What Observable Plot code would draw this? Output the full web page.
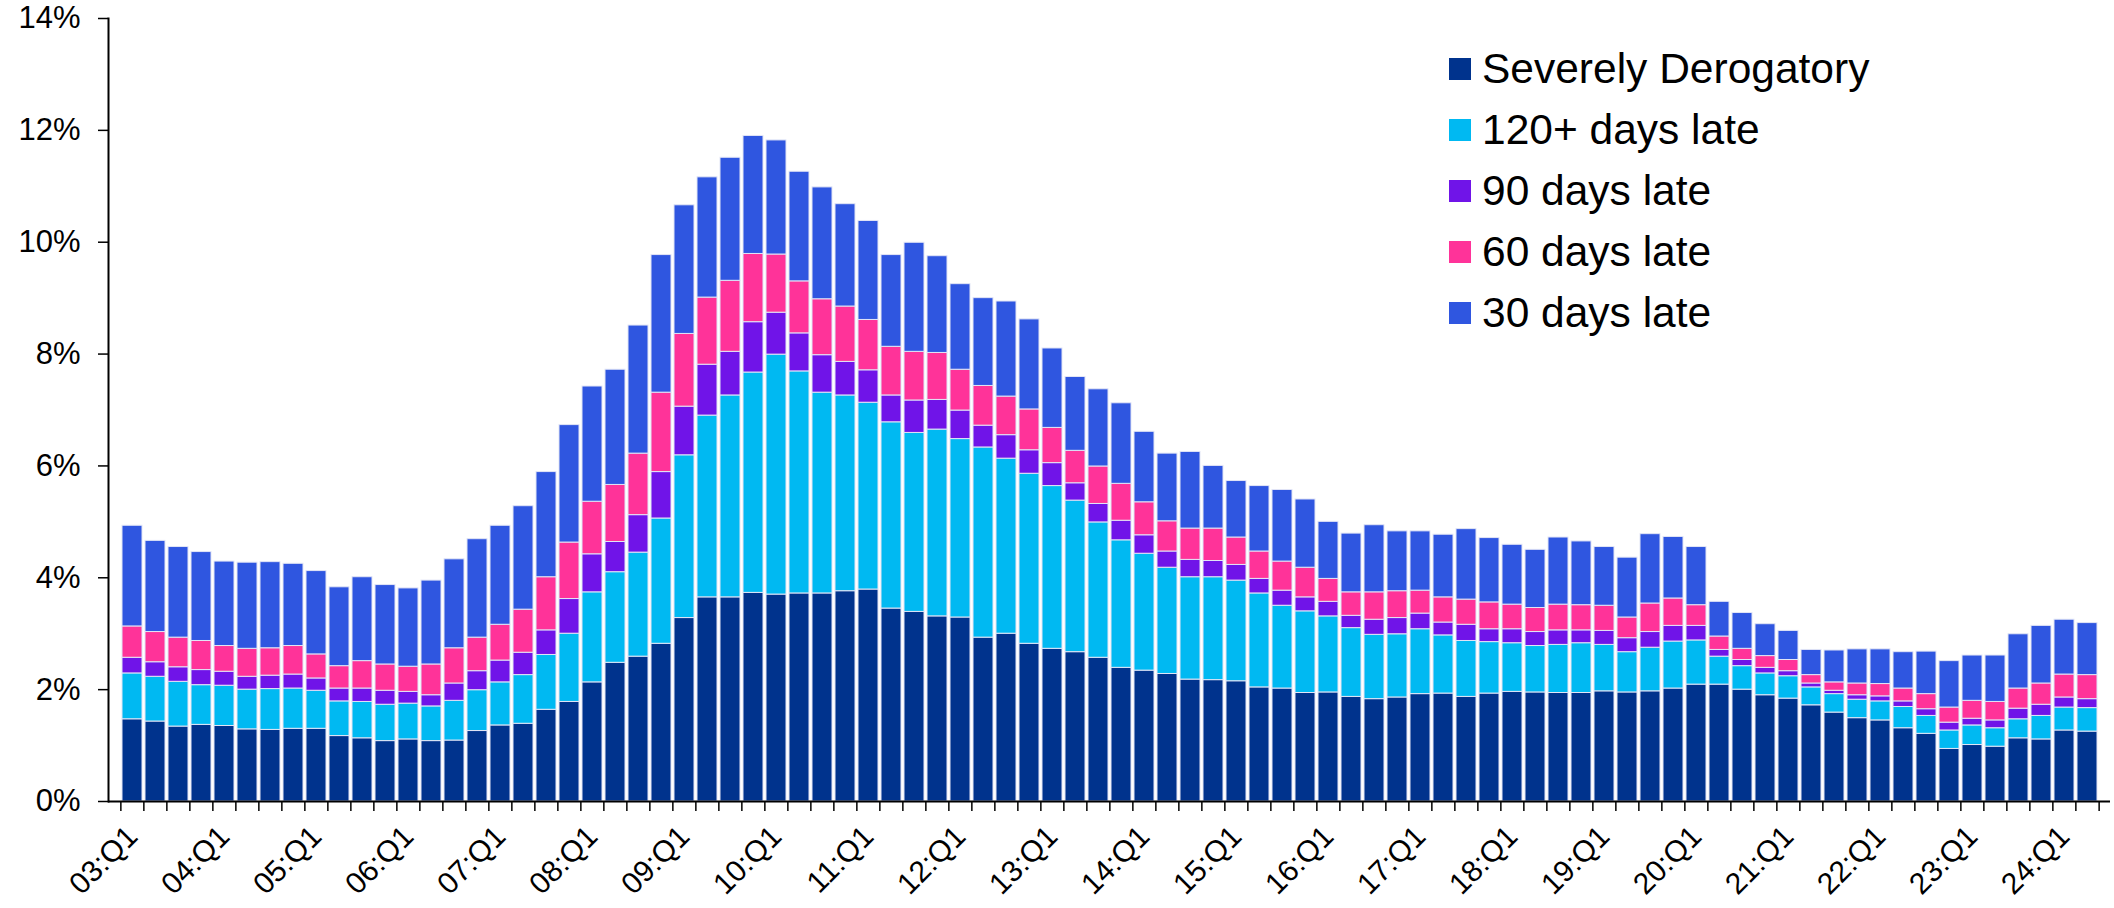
<!DOCTYPE html>
<html><head><meta charset="utf-8">
<script src="https://cdn.jsdelivr.net/npm/d3@7"></script>
<script src="https://cdn.jsdelivr.net/npm/@observablehq/plot@0.6"></script>
<style>
body{margin:0;background:#fff;}
#wrap{position:relative;width:2114px;height:908px;font-family:"Liberation Sans",Arial,sans-serif;}
#legend{position:absolute;left:1449px;top:38px;}
.row{display:flex;align-items:center;height:61px;font-size:42.5px;color:#000;white-space:nowrap;}
.sw{width:22px;height:22px;margin-right:11px;flex:none;}
</style></head><body><div id="wrap"><div id="legend"></div></div>
<script>
// Categories: quarters 03:Q1 .. 24:Q2
const quarters = [];
for (let y = 3; y <= 24; y++) for (let q = 1; q <= 4; q++) {
  if (y === 24 && q > 2) break;
  quarters.push(String(y).padStart(2, "0") + ":Q" + q);
}
const seriesNames = ["Severely Derogatory", "120+ days late", "90 days late", "60 days late", "30 days late"];
const colors = ["#00338D", "#00B9F2", "#7014E8", "#FF3399", "#2F56E0"];
const yTicks = [0, 2, 4, 6, 8, 10, 12, 14];

// Segment values (% of balance)
const severe = [1.47,1.43,1.34,1.37,1.35,1.29,1.28,1.30,1.30,1.17,1.13,1.08,1.11,1.08,1.09,1.26,1.36,1.39,1.64,1.78,
  2.13,2.48,2.59,2.82,3.28,3.65,3.65,3.73,3.70,3.72,3.72,3.76,3.79,3.45,3.39,3.31,3.29,2.93,3.00,2.82,
  2.73,2.67,2.57,2.39,2.34,2.28,2.18,2.17,2.15,2.04,2.02,1.94,1.95,1.87,1.83,1.86,1.92,1.93,1.87,1.93,
  1.96,1.95,1.94,1.94,1.97,1.95,1.97,2.02,2.09,2.09,2.00,1.90,1.84,1.72,1.59,1.49,1.45,1.31,1.21,0.94,
  1.01,0.98,1.13,1.11,1.27,1.25];
const late120 = [0.82,0.80,0.80,0.71,0.72,0.71,0.73,0.72,0.68,0.62,0.65,0.65,0.64,0.62,0.71,0.73,0.77,0.87,0.98,1.22,
  1.61,1.62,1.86,2.24,2.91,3.25,3.61,3.94,4.29,3.97,3.59,3.50,3.34,3.33,3.20,3.34,3.19,3.40,3.13,3.04,
  2.91,2.71,2.42,2.28,2.09,1.90,1.83,1.84,1.80,1.68,1.48,1.46,1.36,1.23,1.15,1.13,1.16,1.04,1.00,0.92,
  0.87,0.83,0.86,0.89,0.83,0.72,0.78,0.84,0.79,0.50,0.42,0.39,0.40,0.32,0.33,0.33,0.34,0.38,0.32,0.33,
  0.35,0.33,0.34,0.42,0.41,0.42];
const late90 = [0.28,0.26,0.26,0.27,0.25,0.23,0.24,0.25,0.22,0.23,0.24,0.25,0.21,0.20,0.31,0.34,0.39,0.40,0.44,0.62,
  0.68,0.54,0.67,0.83,0.87,0.91,0.78,0.90,0.75,0.68,0.67,0.60,0.58,0.48,0.58,0.53,0.51,0.39,0.42,0.42,
  0.41,0.31,0.33,0.35,0.33,0.29,0.31,0.29,0.28,0.26,0.27,0.25,0.26,0.22,0.27,0.29,0.28,0.23,0.29,0.23,
  0.25,0.25,0.26,0.23,0.25,0.25,0.28,0.28,0.26,0.12,0.11,0.10,0.09,0.07,0.06,0.08,0.09,0.10,0.12,0.14,
  0.12,0.14,0.19,0.20,0.18,0.16];
const late60 = [0.56,0.54,0.53,0.52,0.46,0.50,0.49,0.51,0.43,0.40,0.49,0.47,0.45,0.55,0.63,0.60,0.64,0.77,0.95,1.01,
  0.94,1.02,1.10,1.42,1.30,1.20,1.27,1.22,1.04,0.93,1.00,0.99,0.90,0.87,0.87,0.84,0.73,0.71,0.69,0.73,
  0.63,0.58,0.67,0.66,0.59,0.54,0.56,0.58,0.49,0.49,0.52,0.53,0.41,0.42,0.49,0.48,0.41,0.45,0.45,0.48,
  0.44,0.43,0.46,0.45,0.45,0.37,0.51,0.49,0.37,0.24,0.20,0.21,0.20,0.15,0.15,0.21,0.22,0.23,0.27,0.27,
  0.32,0.33,0.36,0.38,0.41,0.43];
const late30 = [1.80,1.63,1.62,1.59,1.51,1.54,1.54,1.47,1.49,1.41,1.50,1.42,1.40,1.50,1.59,1.76,1.77,1.85,1.88,2.10,
  2.06,2.06,2.29,2.46,2.30,2.15,2.20,2.11,2.04,1.96,2.00,1.83,1.77,1.64,1.95,1.73,1.53,1.57,1.70,1.61,
  1.42,1.32,1.38,1.44,1.26,1.21,1.37,1.12,1.01,1.17,1.28,1.22,1.02,1.05,1.20,1.07,1.06,1.12,1.26,1.15,
  1.07,1.04,1.20,1.14,1.05,1.07,1.24,1.10,1.04,0.62,0.64,0.57,0.52,0.45,0.57,0.61,0.62,0.65,0.76,0.83,
  0.81,0.83,0.97,1.03,0.98,0.93];

const seriesValues = [severe, late120, late90, late60, late30];
const data = [];
quarters.forEach((q, i) => {
  seriesNames.forEach((s, k) => data.push({quarter: q, series: s, value: seriesValues[k][i]}));
});
const q1Ticks = quarters.filter(q => q.endsWith("Q1"));

const W = 2114, H = 908, mL = 108, mR = 4, mT = 18, mB = 107;
const step = (W - mL - mR) / quarters.length;
const font = "Liberation Sans, Arial, sans-serif";

const chart = Plot.plot({
  width: W, height: H,
  marginLeft: mL, marginRight: mR, marginTop: mT, marginBottom: mB,
  style: {fontFamily: font, color: "#000", background: "#fff", overflow: "visible"},
  x: {type: "band", domain: quarters, paddingInner: 0.14, paddingOuter: 0.07},
  y: {domain: [0, 14]},
  color: {domain: seriesNames, range: colors},
  marks: [
    Plot.barY(data, {x: "quarter", y: "value", fill: "series", stroke: "#e2e5f6", strokeWidth: 1}),
    Plot.ruleY([0], {stroke: "#000", strokeWidth: 2}),
    Plot.frame({anchor: "left", stroke: "#000", strokeWidth: 2}),
    Plot.axisY({ticks: yTicks, tickFormat: d => d + "%", tickSize: 10, tickPadding: 18, fontSize: 31, label: null, stroke: "#000", strokeWidth: 1.5}),
    Plot.axisX({ticks: quarters, tickSize: 10, dx: -step / 2, tickFormat: () => "", label: null, stroke: "#000", strokeWidth: 1.5}),
    Plot.axisX({ticks: [quarters[quarters.length - 1]], tickSize: 10, dx: step / 2, tickFormat: () => "", label: null, stroke: "#000", strokeWidth: 1.5}),
    Plot.axisX({ticks: q1Ticks, tickSize: 0, tickPadding: 30, tickRotate: -45, fontSize: 30, label: null})
  ]
});
document.getElementById("wrap").prepend(chart);

const legend = document.getElementById("legend");
seriesNames.forEach((s, k) => {
  const row = document.createElement("div");
  row.className = "row";
  const sw = document.createElement("div");
  sw.className = "sw";
  sw.style.background = colors[k];
  const t = document.createElement("span");
  t.textContent = s;
  row.append(sw, t);
  legend.append(row);
});
</script></body></html>
